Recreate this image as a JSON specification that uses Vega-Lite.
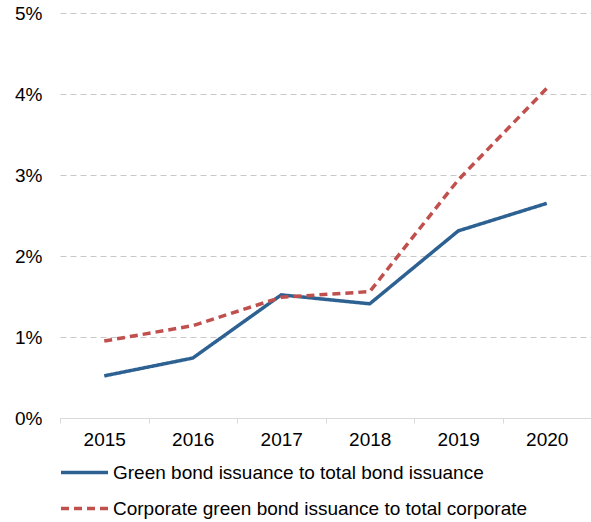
{
  "$schema": "https://vega.github.io/schema/vega-lite/v6.json",
  "width": 531,
  "height": 405,
  "autosize": {"type": "none"},
  "padding": {"left": 60, "top": 13, "right": 0, "bottom": 104},
  "background": "white",
  "config": {"view": {"stroke": null}, "font": "Liberation Sans"},
  "data": {
    "values": [
      {"year": "2015", "series": "Green bond issuance to total bond issuance", "value": 0.0052},
      {"year": "2016", "series": "Green bond issuance to total bond issuance", "value": 0.0074},
      {"year": "2017", "series": "Green bond issuance to total bond issuance", "value": 0.0152},
      {"year": "2018", "series": "Green bond issuance to total bond issuance", "value": 0.0141},
      {"year": "2019", "series": "Green bond issuance to total bond issuance", "value": 0.0231},
      {"year": "2020", "series": "Green bond issuance to total bond issuance", "value": 0.0265},
      {"year": "2015", "series": "Corporate green bond issuance to total corporate", "value": 0.0095},
      {"year": "2016", "series": "Corporate green bond issuance to total corporate", "value": 0.0114},
      {"year": "2017", "series": "Corporate green bond issuance to total corporate", "value": 0.0149},
      {"year": "2018", "series": "Corporate green bond issuance to total corporate", "value": 0.0156},
      {"year": "2019", "series": "Corporate green bond issuance to total corporate", "value": 0.0294},
      {"year": "2020", "series": "Corporate green bond issuance to total corporate", "value": 0.0407}
    ]
  },
  "mark": {"type": "line", "strokeWidth": 3.5},
  "encoding": {
    "x": {
      "field": "year",
      "type": "ordinal",
      "scale": {"type": "band", "paddingInner": 0, "paddingOuter": 0},
      "axis": {
        "title": null,
        "labelAngle": 0,
        "labelFontSize": 19,
        "labelColor": "#000000",
        "domainColor": "#d9d9d9",
        "tickColor": "#d9d9d9",
        "tickSize": 5,
        "tickBand": "extent",
        "labelPadding": 7,
        "grid": false
      }
    },
    "y": {
      "field": "value",
      "type": "quantitative",
      "scale": {"domain": [0, 0.05]},
      "axis": {
        "title": null,
        "format": ".0%",
        "values": [0, 0.01, 0.02, 0.03, 0.04, 0.05],
        "labelFontSize": 19,
        "labelColor": "#000000",
        "domain": false,
        "ticks": false,
        "tickSize": 0,
        "labelPadding": 18,
        "gridDash": [6, 4],
        "gridColor": "#c8c8c8"
      }
    },
    "color": {
      "field": "series",
      "type": "nominal",
      "sort": null,
      "scale": {
        "domain": ["Green bond issuance to total bond issuance", "Corporate green bond issuance to total corporate"],
        "range": ["#2D6192", "#C0504D"]
      },
      "legend": {
        "orient": "none",
        "legendX": -1,
        "legendY": 434,
        "title": null,
        "direction": "vertical",
        "symbolType": "stroke",
        "symbolSize": 2209,
        "symbolStrokeWidth": 3.5,
        "labelFontSize": 19,
        "labelColor": "#000000",
        "labelLimit": 600,
        "labelOffset": 3,
        "rowPadding": -15,
        "padding": 0
      }
    },
    "strokeDash": {
      "field": "series",
      "type": "nominal",
      "sort": null,
      "scale": {
        "domain": ["Green bond issuance to total bond issuance", "Corporate green bond issuance to total corporate"],
        "range": [[1, 0], [8, 5]]
      },
      "legend": {
        "orient": "none",
        "legendX": -1,
        "legendY": 434,
        "title": null,
        "direction": "vertical",
        "symbolType": "stroke",
        "symbolSize": 2209,
        "symbolStrokeWidth": 3.5,
        "labelFontSize": 19,
        "labelColor": "#000000",
        "labelLimit": 600,
        "labelOffset": 3,
        "rowPadding": -15,
        "padding": 0
      }
    }
  }
}
